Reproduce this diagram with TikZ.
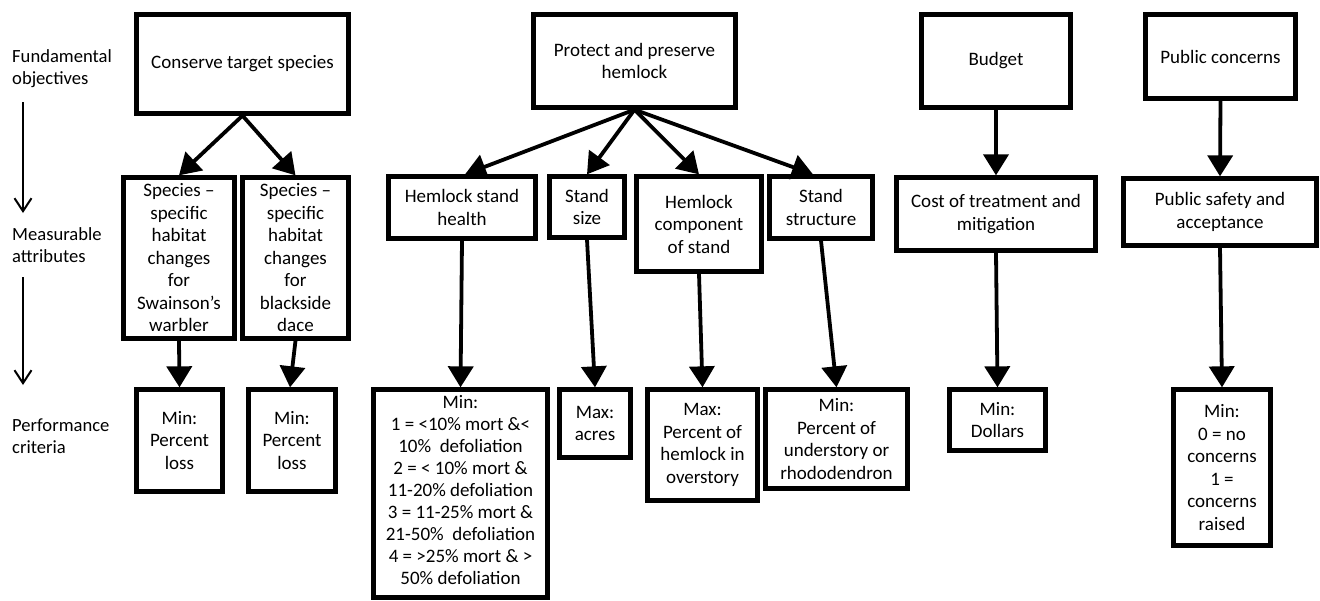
\documentclass[tikz,border=0pt]{standalone}
\usepackage{fontspec}
\setmainfont{Carlito}
\usetikzlibrary{arrows.meta}
\begin{document}
\begin{tikzpicture}[x=1pt,y=-1pt,
  box/.style={draw, line width=4.3pt, align=center, inner sep=0pt,
    font=\fontsize{19}{22.5}\selectfont},
  txt/.style={align=center, inner sep=0pt, font=\fontsize{19}{22}\selectfont},
  conn/.style={line width=3.8pt, -{Triangle[length=21pt,width=25pt]}},
  lab/.style={anchor=west, align=left, inner sep=0pt, font=\fontsize{18.6}{22}\selectfont},
  levelarrow/.style={line width=2pt, -{Straight Barb[length=13pt,width=17pt,line width=2pt]}}]
\useasboundingbox (0,0) rectangle (1320,600);

% left labels
\node[lab] (fo) at (12,69) {Fundamental\\objectives};
\node[lab] (ma) at (12,245) {Measurable\\attributes};
\node[lab] (pc) at (12,436) {Performance\\criteria};
\coordinate (a1s) at (23,102);
\coordinate (a1e) at (23,213);
\coordinate (a2s) at (23,277);
\coordinate (a2e) at (23,385);
\draw[levelarrow] (a1s) -- (a1e);
\draw[levelarrow] (a2s) -- (a2e);

% fundamental objectives
\node[box, minimum width=212, minimum height=99] (cons) at (242.5,64) {Conserve target species};
\node[box, minimum width=202, minimum height=93] (prot) at (634.5,61) {Protect and preserve\\hemlock};
\node[box, minimum width=149, minimum height=93] (bud) at (996,61) {Budget};
\node[box, minimum width=150, minimum height=84] (pub) at (1220.5,56.5) {Public concerns};

% measurable attributes
\node[box, minimum width=111, minimum height=161] (sp1) at (179,258) {Species –\\specific\\habitat\\changes\\for\\Swainson’s\\warbler};
\node[box, minimum width=106, minimum height=161] (sp2) at (295.5,258) {Species –\\specific\\habitat\\changes\\for\\blackside\\dace};
\node[box, minimum width=147, minimum height=62] (hsh) at (462,207.5) {Hemlock stand\\health};
\node[box, minimum width=75, minimum height=61] (ssz) at (587,207) {Stand\\size};
\node[box, minimum width=125, minimum height=95] (hcs) at (699,224) {Hemlock\\component\\of stand};
\node[box, minimum width=103, minimum height=62] (sst) at (821,207.5) {Stand\\structure};
\node[box, minimum width=199, minimum height=73] (cost) at (996,214) {Cost of treatment and\\mitigation};
\node[box, minimum width=193, minimum height=67] (pubs) at (1220,212) {Public safety and\\acceptance};

% performance criteria
\node[box, minimum width=86, minimum height=102] (ml1) at (179.5,440.5) {Min:\\Percent\\loss};
\node[box, minimum width=87, minimum height=102] (ml2) at (292,440.5) {Min:\\Percent\\loss};
\node[box, minimum width=174, minimum height=208] (hmin) at (460.5,493.5) {};
\node[txt] (hmintxt) at ([yshift=3pt]hmin.center) {Min:\\1 = <10\% mort \&<\\10\%\ \ defoliation\\2 = < 10\% mort \&\\11-20\% defoliation\\3 = 11-25\% mort \&\\21-50\%\ \ defoliation\\4 = >25\% mort \& >\\50\% defoliation};
\node[box, minimum width=71, minimum height=68] (acres) at (595,423.5) {Max:\\acres};
\node[box, minimum width=110, minimum height=111] (pcth) at (702.5,445) {Max:\\Percent of\\hemlock in\\overstory};
\node[box, minimum width=142, minimum height=99] (pctu) at (836.5,439) {Min:\\Percent of\\understory or\\rhododendron};
\node[box, minimum width=96, minimum height=61] (dol) at (997.5,420) {Min:\\Dollars};
\node[box, minimum width=97, minimum height=156] (conc) at (1222,467.5) {Min:\\0 = no\\concerns\\1 =\\concerns\\raised};

% connectors
\draw[conn] (cons.south) -- (sp1.north);
\draw[conn] (cons.south) -- (sp2.north);
\draw[conn] (prot.south) -- ([xshift=3pt]hsh.north);
\draw[conn] (prot.south) -- (ssz.north);
\draw[conn] (prot.south) -- (hcs.north);
\draw[conn] (prot.south) -- ([xshift=-8pt]sst.north);
\draw[conn] (bud.south) -- (cost.north);
\draw[conn] (pub.south) -- (pubs.north);
\draw[conn] (sp1.south) -- (ml1.north);
\draw[conn] (sp2.south) -- ([xshift=-2pt]ml2.north);
\draw[conn] (hsh.south) -- (hmin.north);
\draw[conn] (ssz.south) -- (acres.north);
\draw[conn] (hcs.south) -- (pcth.north);
\draw[conn] (sst.south) -- (pctu.north);
\draw[conn] (cost.south) -- (dol.north);
\draw[conn] (pubs.south) -- (conc.north);
\end{tikzpicture}
\end{document}
